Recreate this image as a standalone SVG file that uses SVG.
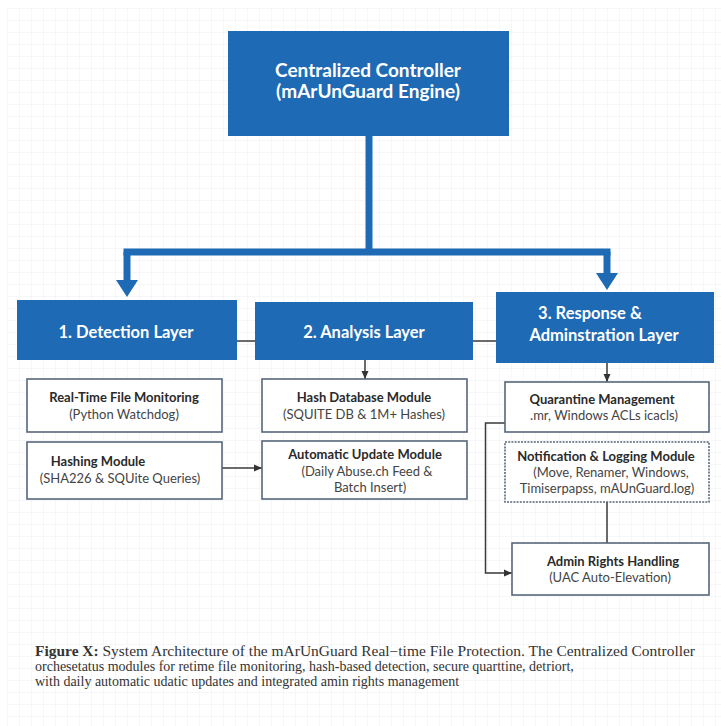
<svg xmlns="http://www.w3.org/2000/svg" width="721" height="726" viewBox="0 0 721 726">
<defs>
<pattern id="grid" width="12" height="12" patternUnits="userSpaceOnUse" x="7" y="8">
<path d="M12,0 H0 V12" fill="none" stroke="#eeeff1" stroke-width="1"/>
</pattern>
<marker id="bigArrow" markerUnits="userSpaceOnUse" markerWidth="20" markerHeight="24" refX="1" refY="11" orient="auto" viewBox="0 0 20 22">
<path d="M0,0 L17,11 L0,22 z" fill="#1f6ab4"/>
</marker>
<marker id="smallArrow" markerUnits="userSpaceOnUse" markerWidth="9" markerHeight="8" refX="8" refY="3.5" orient="auto" viewBox="0 0 9 7">
<path d="M0,0 L8,3.5 L0,7 z" fill="#333"/>
</marker>
</defs>
<style>
.blue{fill:#1f6ab4;}
.sub{fill:#ffffff;stroke:#56677a;stroke-width:1.6;}
.dotted{stroke-dasharray:2 1.2;}
.ht{font-family:Lato,"Liberation Sans",sans-serif;font-weight:bold;fill:#ffffff;text-anchor:middle;}
.t{font-family:Lato,"Liberation Sans",sans-serif;font-weight:bold;font-size:13px;fill:#2a2a2a;text-anchor:middle;}
.s{font-family:Lato,"Liberation Sans",sans-serif;font-size:13px;fill:#444;text-anchor:middle;}
.big{fill:none;stroke:#1f6ab4;stroke-width:7;}
.thin{fill:none;stroke:#3a3a3a;stroke-width:1.5;}
.cap{font-family:"Liberation Serif",serif;font-size:14px;fill:#333;}
</style>
<rect x="0" y="0" width="721" height="726" fill="#ffffff"/>
<rect x="7" y="8" width="714" height="718" fill="url(#grid)"/>

<g id="connectors">
<path class="big" d="M369,136 V252"/>
<path class="big" d="M123.5,252 H610.5"/>
<path class="big" d="M127,252 V281" marker-end="url(#bigArrow)"/>
<path class="big" d="M607,252 V274" marker-end="url(#bigArrow)"/>
<path class="thin" d="M237,341 H255"/>
<path class="thin" d="M473,341 H496"/>
<path class="thin" d="M365,360 V379" marker-end="url(#smallArrow)"/>
<path class="thin" d="M607,363 V382" marker-end="url(#smallArrow)"/>
<path class="thin" d="M222,468 H262" marker-end="url(#smallArrow)"/>
<path class="thin" d="M505,423 H485.5 V573 H512" marker-end="url(#smallArrow)"/>
<path class="thin" d="M607,502 V543"/>
</g>

<g id="controller">
<rect class="blue" x="228" y="31" width="281" height="105"/>
<text class="ht" x="368" y="77" font-size="19">Centralized Controller</text>
<text class="ht" x="368" y="98" font-size="19">(mArUnGuard Engine)</text>
</g>

<g id="layer1">
<rect class="blue" x="17" y="300" width="220" height="60"/>
<text class="ht" x="126" y="338" font-size="16.5">1. Detection Layer</text>
</g>
<g id="layer2">
<rect class="blue" x="255" y="302" width="218" height="58"/>
<text class="ht" x="364" y="338" font-size="16.5">2. Analysis Layer</text>
</g>
<g id="layer3">
<rect class="blue" x="496" y="292" width="218" height="71"/>
<text class="ht" x="590" y="319" font-size="16.5">3. Response &amp;</text>
<text class="ht" x="604" y="341" font-size="16.5">Adminstration Layer</text>
</g>

<g id="realtime">
<rect class="sub" x="27" y="379" width="195" height="53"/>
<text class="t" x="124" y="402">Real-Time File Monitoring</text>
<text class="s" x="124" y="419">(Python Watchdog)</text>
</g>
<g id="hashing">
<rect class="sub" x="27" y="442" width="195" height="57"/>
<text class="t" x="98" y="466">Hashing Module</text>
<text class="s" x="120" y="483">(SHA226 &amp; SQUite Queries)</text>
</g>
<g id="hashdb">
<rect class="sub" x="262" y="379" width="205" height="53"/>
<text class="t" x="364" y="402">Hash Database Module</text>
<text class="s" x="364" y="419">(SQUITE DB &amp; 1M+ Hashes)</text>
</g>
<g id="autoupdate">
<rect class="sub" x="262" y="441" width="205" height="58"/>
<text class="t" x="365" y="459">Automatic Update Module</text>
<text class="s" x="367" y="476">(Daily Abuse.ch Feed &amp;</text>
<text class="s" x="370" y="492">Batch Insert)</text>
</g>
<g id="quarantine">
<rect class="sub" x="505" y="382" width="204" height="50"/>
<text class="t" x="602" y="404">Quarantine Management</text>
<text class="s" x="604" y="420">.mr, Windows ACLs icacls)</text>
</g>
<g id="notification">
<rect class="sub dotted" x="505" y="442" width="204" height="60"/>
<text class="t" x="606" y="461">Notification &amp; Logging Module</text>
<text class="s" x="611" y="477">(Move, Renamer, Windows,</text>
<text class="s" x="607" y="493">Timiserpapss, mAUnGuard.log)</text>
</g>
<g id="admin">
<rect class="sub" x="512" y="543" width="197" height="52"/>
<text class="t" x="613" y="566">Admin Rights Handling</text>
<text class="s" x="610" y="582">(UAC Auto-Elevation)</text>
</g>

<g id="caption">
<text class="cap" x="35" y="656" textLength="660" lengthAdjust="spacingAndGlyphs"><tspan font-weight="bold">Figure X:</tspan> System Architecture of the mArUnGuard Real−time File Protection. The Centralized Controller</text>
<text class="cap" x="35" y="671">orchesetatus modules for retime file monitoring, hash-based detection, secure quarttine, detriort,</text>
<text class="cap" x="35" y="686">with daily automatic udatic updates and integrated amin rights management</text>
</g>
</svg>
